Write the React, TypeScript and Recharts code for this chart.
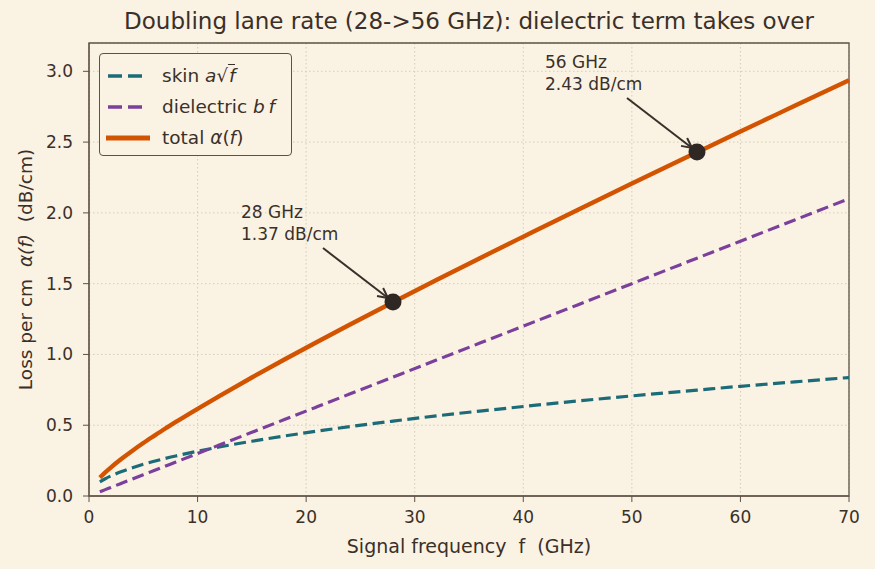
import React from "react";
import {
  LineChart,
  Line,
  XAxis,
  YAxis,
  CartesianGrid,
  ReferenceArea,
  ReferenceDot,
} from "recharts";

// frequency grid (GHz) and per-term loss (dB/cm)
const freqGHz = [1, 1.5, 2, 3, 4, 5, 6, 7, 8, 10, 12, 15, 18, 21, 24, 28, 32, 36, 40, 45, 50, 56, 60, 65, 70];
const skinLoss = [0.1, 0.122, 0.141, 0.173, 0.2, 0.224, 0.245, 0.265, 0.283, 0.316, 0.346, 0.387, 0.424, 0.458, 0.49, 0.529, 0.566, 0.6, 0.632, 0.671, 0.707, 0.748, 0.775, 0.806, 0.837];
const dielectricLoss = [0.03, 0.045, 0.06, 0.09, 0.12, 0.15, 0.18, 0.21, 0.24, 0.3, 0.36, 0.45, 0.54, 0.63, 0.72, 0.84, 0.96, 1.08, 1.2, 1.35, 1.5, 1.68, 1.8, 1.95, 2.1];
const totalLoss = [0.13, 0.167, 0.201, 0.263, 0.32, 0.374, 0.425, 0.475, 0.523, 0.616, 0.706, 0.837, 0.964, 1.088, 1.21, 1.369, 1.526, 1.68, 1.832, 2.021, 2.207, 2.428, 2.575, 2.756, 2.937];

// the two lane rates that get called out
const markFreq = [28, 56];
const markLoss = [1.37, 2.43];

const xTicks = [0, 10, 20, 30, 40, 50, 60, 70];
const yTicks = [0, 0.5, 1, 1.5, 2, 2.5, 3];

const BG = "#faf2e3";
const INK = "#3a302a";
const SPINE = "#5e5246";
const SKIN = "#1c6b78";
const DIEL = "#7b3f9c";
const TOTAL = "#d35400";
const FONT = "'DejaVu Sans', sans-serif";

const data = freqGHz.map((f, i) => ({
  f,
  skin: skinLoss[i],
  diel: dielectricLoss[i],
  total: totalLoss[i],
}));

const Callout = (props: any) => {
  const { cx, cy, freq, loss } = props;
  const x0 = cx - 70, y0 = cy - 54;
  const x1 = cx - 5, y1 = cy - 4;
  const len = Math.hypot(x1 - x0, y1 - y0);
  const ux = (x1 - x0) / len, uy = (y1 - y0) / len;
  const hl = 10, hw = 5;
  const bx = x1 - ux * hl, by = y1 - uy * hl;
  return (
    <g>
      <line x1={x0} y1={y0} x2={x1} y2={y1} stroke={INK} strokeWidth={2} />
      <polyline
        points={`${bx - uy * hw},${by + ux * hw} ${x1},${y1} ${bx + uy * hw},${by - ux * hw}`}
        fill="none"
        stroke={INK}
        strokeWidth={2}
      />
      <circle cx={cx} cy={cy} r={8.5} fill="#2f2724" />
      <text x={cx - 152} y={cy - 84} fontSize={17} fill={INK} fontFamily={FONT}>
        <tspan x={cx - 152}>{`${freq} GHz`}</tspan>
        <tspan x={cx - 152} dy={22}>{`${loss.toFixed(2)} dB/cm`}</tspan>
      </text>
    </g>
  );
};

const YLabel = (props: any) => {
  const vb = props.viewBox;
  const cx = 25;
  const cy = vb.y + vb.height / 2;
  return (
    <text
      x={cx}
      y={cy}
      transform={`rotate(-90 ${cx} ${cy})`}
      textAnchor="middle"
      dominantBaseline="central"
      fontSize={18.5}
      fill={INK}
      fontFamily={FONT}
    >
      {"Loss per cm\u00a0\u00a0"}
      <tspan fontStyle="italic">α(f)</tspan>
      {"\u00a0\u00a0(dB/cm)"}
    </text>
  );
};

const LegendRow = ({ color, dash, width, children }: any) => (
  <div style={{ display: "flex", alignItems: "center", height: 31 }}>
    <svg width={44} height={10} style={{ marginLeft: 6, marginRight: 12 }}>
      <line x1={dash ? 2 : 0} y1={5} x2={dash ? 37 : 44} y2={5} stroke={color} strokeWidth={width} strokeDasharray={dash} />
    </svg>
    <span>{children}</span>
  </div>
);

export default function App() {
  return (
    <div
      style={{
        position: "absolute",
        left: 0,
        top: 0,
        width: 875,
        height: 569,
        background: BG,
        fontFamily: FONT,
        color: INK,
      }}
    >
      <div
        style={{
          position: "absolute",
          left: 89,
          width: 760,
          top: 8,
          textAlign: "center",
          fontSize: 23,
          whiteSpace: "nowrap",
        }}
      >
        Doubling lane rate (28-&gt;56 GHz): dielectric term takes over
      </div>
      <LineChart
        width={875}
        height={569}
        data={data}
        margin={{ top: 43, right: 26, bottom: 33, left: 29 }}
      >
        <CartesianGrid
          stroke="#d3c8b2"
          strokeDasharray="1.5 2.5"
          strokeWidth={0.9}
        />
        <XAxis
          dataKey="f"
          type="number"
          domain={[0, 70]}
          ticks={xTicks}
          height={40}
          stroke={SPINE}
          tickSize={6}
          tickMargin={9}
          tick={{ fill: INK, fontSize: 17, fontFamily: FONT }}
          label={{
            value: "Signal frequency\u00a0\u00a0f\u00a0\u00a0(GHz)",
            position: "insideBottom",
            offset: -17,
            fill: INK,
            fontSize: 19,
            fontFamily: FONT,
          }}
        />
        <YAxis
          type="number"
          domain={[0, 3.2]}
          ticks={yTicks}
          width={60}
          stroke={SPINE}
          tickSize={6}
          tickMargin={10}
          tickFormatter={(v: number) => v.toFixed(1)}
          tick={{ fill: INK, fontSize: 17, fontFamily: FONT }}
          label={<YLabel />}
        />
        <ReferenceArea
          x1={0}
          x2={70}
          y1={0}
          y2={3.2}
          fill="none"
          stroke={SPINE}
          strokeWidth={1.3}
          ifOverflow="visible"
        />
        <Line
          dataKey="skin"
          type="monotone"
          stroke={SKIN}
          strokeWidth={3.2}
          strokeDasharray="12 5.5"
          dot={false}
          isAnimationActive={false}
        />
        <Line
          dataKey="diel"
          type="monotone"
          stroke={DIEL}
          strokeWidth={3.2}
          strokeDasharray="12 5.5"
          dot={false}
          isAnimationActive={false}
        />
        <Line
          dataKey="total"
          type="monotone"
          stroke={TOTAL}
          strokeWidth={4.4}
          dot={false}
          isAnimationActive={false}
        />
        {markFreq.map((f, i) => (
          <ReferenceDot
            key={f}
            x={f}
            y={markLoss[i]}
            ifOverflow="visible"
            shape={(p: any) => <Callout {...p} freq={f} loss={markLoss[i]} />}
          />
        ))}
      </LineChart>
      <div
        style={{
          position: "absolute",
          left: 99,
          top: 53,
          width: 193,
          height: 103,
          border: `1.3px solid ${SPINE}`,
          borderRadius: 4,
          background: BG,
          fontSize: 18.5,
          paddingTop: 6,
          boxSizing: "border-box",
          whiteSpace: "nowrap",
        }}
      >
        <LegendRow color={SKIN} dash="14 6" width={3.4}>
          skin <i>a</i>
          <span style={{ fontSize: 18 }}>√</span>
          <span style={{ borderTop: `1.3px solid ${INK}`, paddingLeft: 1 }}>
            <i>f</i>
          </span>
        </LegendRow>
        <LegendRow color={DIEL} dash="14 6" width={3.4}>
          dielectric <i>b</i>&thinsp;<i>f</i>
        </LegendRow>
        <LegendRow color={TOTAL} width={4.8}>
          total <i>α</i>(<i>f</i>)
        </LegendRow>
      </div>
    </div>
  );
}
